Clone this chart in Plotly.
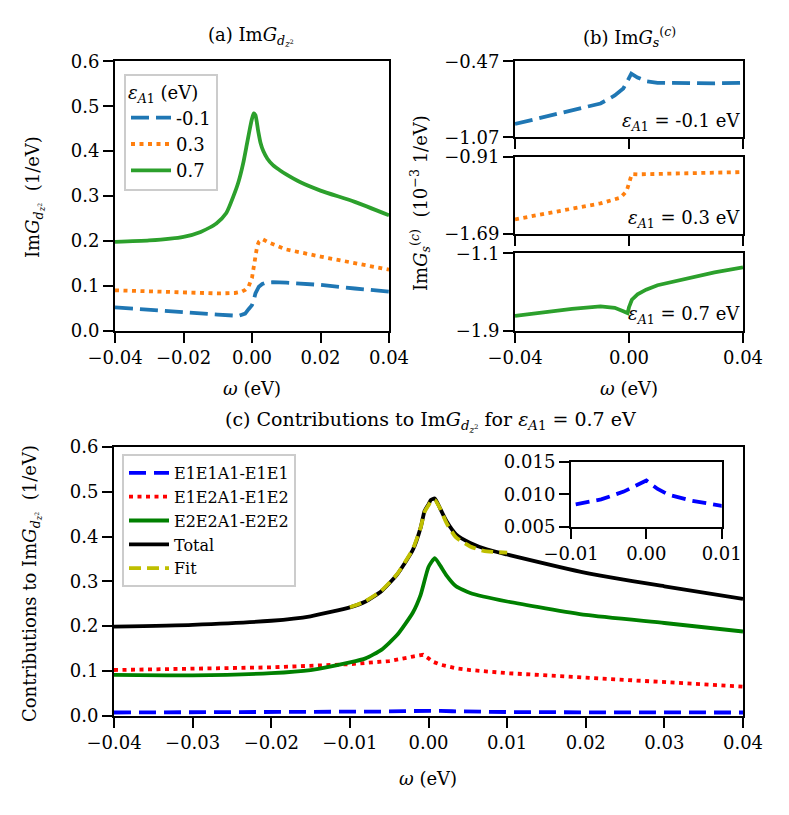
import plotly.graph_objects as go

# ---------------- data ----------------
# Panel (a): ImG_dz2 for three eps_A1 values
a_m01_x = [-0.04, -0.03, -0.02, -0.01, -0.004, -0.002, -0.001, 0.0, 0.0005, 0.001, 0.002, 0.003, 0.004, 0.006, 0.01, 0.02, 0.03, 0.04]
a_m01_y = [0.052, 0.046, 0.040, 0.036, 0.033, 0.038, 0.048, 0.057, 0.068, 0.083, 0.098, 0.104, 0.107, 0.108, 0.107, 0.102, 0.094, 0.087]
a_03_x = [-0.04, -0.03, -0.02, -0.01, -0.005, -0.003, -0.002, -0.001, 0.0, 0.0005, 0.001, 0.0015, 0.002, 0.003, 0.005, 0.01, 0.02, 0.03, 0.04]
a_03_y = [0.090, 0.087, 0.085, 0.083, 0.084, 0.087, 0.091, 0.098, 0.118, 0.145, 0.172, 0.188, 0.198, 0.204, 0.196, 0.181, 0.165, 0.151, 0.136]
a_07_x = [-0.04, -0.03, -0.02, -0.015, -0.0104, -0.0075, -0.0055, -0.004, -0.0026, -0.0015, -0.0007, 0.0, 0.0005, 0.001, 0.0018, 0.0025, 0.0033, 0.0045, 0.0062, 0.008, 0.01, 0.014, 0.02, 0.03, 0.04]
a_07_y = [0.198, 0.201, 0.209, 0.220, 0.239, 0.262, 0.298, 0.330, 0.372, 0.415, 0.447, 0.472, 0.484, 0.480, 0.445, 0.418, 0.400, 0.383, 0.368, 0.358, 0.348, 0.331, 0.312, 0.287, 0.257]
a_labels = ["-0.1", "0.3", "0.7"]

# Panel (b): ImG_s^(c) in 1e-3 1/eV
b_m01_x = [-0.04, -0.03, -0.02, -0.01, -0.005, -0.002, -0.001, 0.0, 0.0008, 0.003, 0.006, 0.01, 0.02, 0.03, 0.04]
b_m01_y = [-0.965, -0.910, -0.855, -0.803, -0.740, -0.685, -0.645, -0.593, -0.567, -0.598, -0.627, -0.640, -0.645, -0.644, -0.640]
b_03_x = [-0.04, -0.03, -0.02, -0.01, -0.003, -0.001, -0.0005, 0.0, 0.0005, 0.001, 0.003, 0.01, 0.02, 0.03, 0.04]
b_03_y = [-1.542, -1.486, -1.431, -1.381, -1.323, -1.263, -1.225, -1.179, -1.120, -1.085, -1.088, -1.085, -1.078, -1.072, -1.065]
b_07_x = [-0.04, -0.03, -0.02, -0.01, -0.005, -0.002, -0.0005, 0.0, 0.001, 0.003, 0.006, 0.01, 0.02, 0.03, 0.04]
b_07_y = [-1.747, -1.708, -1.674, -1.649, -1.663, -1.699, -1.719, -1.657, -1.580, -1.524, -1.476, -1.430, -1.361, -1.298, -1.246]
b_labels = ["-0.1", "0.3", "0.7"]

# Panel (c): contributions for eps_A1 = 0.7 eV
c_e1e1_x = [-0.04, -0.03, -0.02, -0.01, -0.006, -0.003, -0.0015, 0.0, 0.0015, 0.003, 0.006, 0.01, 0.02, 0.03, 0.04]
c_e1e1_y = [0.0072, 0.0074, 0.0077, 0.0083, 0.0092, 0.0104, 0.0112, 0.0121, 0.0108, 0.0099, 0.0090, 0.0082, 0.0076, 0.0073, 0.0071]
c_e1e2_x = [-0.04, -0.03, -0.02, -0.01, -0.005, -0.002, -0.0007, 0.0, 0.0005, 0.0015, 0.0023, 0.0035, 0.0053, 0.01, 0.02, 0.03, 0.04]
c_e1e2_y = [0.102, 0.104, 0.108, 0.115, 0.122, 0.132, 0.136, 0.128, 0.121, 0.114, 0.110, 0.106, 0.102, 0.095, 0.085, 0.076, 0.065]
c_e2e2_x = [-0.04, -0.03, -0.02, -0.015, -0.01, -0.008, -0.006, -0.004, -0.002, -0.001, 0.0, 0.0008, 0.0015, 0.0023, 0.0035, 0.0053, 0.01, 0.02, 0.03, 0.04]
c_e2e2_y = [0.091, 0.090, 0.095, 0.102, 0.119, 0.128, 0.147, 0.180, 0.230, 0.270, 0.332, 0.352, 0.335, 0.313, 0.289, 0.274, 0.255, 0.225, 0.207, 0.188]
c_tot_x = [-0.04, -0.03, -0.02, -0.015, -0.01, -0.008, -0.006, -0.004, -0.002, -0.001, -0.0005, 0.0, 0.0003, 0.0008, 0.0015, 0.0023, 0.0035, 0.0053, 0.0075, 0.01, 0.02, 0.03, 0.04]
c_tot_y = [0.199, 0.203, 0.212, 0.222, 0.242, 0.255, 0.278, 0.315, 0.370, 0.420, 0.457, 0.472, 0.482, 0.485, 0.462, 0.434, 0.405, 0.386, 0.371, 0.360, 0.319, 0.289, 0.261]
c_fit_x = [-0.01, -0.008, -0.006, -0.004, -0.002, -0.001, -0.0005, 0.0, 0.0003, 0.0008, 0.0015, 0.0023, 0.0035, 0.0053, 0.007, 0.01]
c_fit_y = [0.242, 0.256, 0.279, 0.316, 0.372, 0.420, 0.455, 0.470, 0.479, 0.482, 0.462, 0.430, 0.398, 0.378, 0.368, 0.364]
c_labels = ["E1E1A1-E1E1", "E1E2A1-E1E2", "E2E2A1-E2E2", "Total", "Fit"]

# ---------------- layout helpers ----------------
W, H = 789, 815
FONT = "DejaVu Serif"
FS = 18


def px(x):
    return x / W


def py(y):
    return 1 - y / H


TAB_BLUE, TAB_ORANGE, TAB_GREEN = "#1f77b4", "#ff7f0e", "#2ca02c"
LW = 3.8
DASH = "18px,7px"
DOT = "4px,4.5px"

fig = go.Figure()

# panel (a)
fig.add_trace(go.Scatter(x=a_m01_x, y=a_m01_y, mode="lines", name=a_labels[0], legend="legend",
                         line=dict(color=TAB_BLUE, width=LW, dash=DASH), xaxis="x", yaxis="y"))
fig.add_trace(go.Scatter(x=a_03_x, y=a_03_y, mode="lines", name=a_labels[1], legend="legend",
                         line=dict(color=TAB_ORANGE, width=LW, dash=DOT), xaxis="x", yaxis="y"))
fig.add_trace(go.Scatter(x=a_07_x, y=a_07_y, mode="lines", name=a_labels[2], legend="legend",
                         line=dict(color=TAB_GREEN, width=LW, shape="spline", smoothing=0.6), xaxis="x", yaxis="y"))

# panel (b)
fig.add_trace(go.Scatter(x=b_m01_x, y=b_m01_y, mode="lines", showlegend=False,
                         line=dict(color=TAB_BLUE, width=LW, dash=DASH), xaxis="x2", yaxis="y2"))
fig.add_trace(go.Scatter(x=b_03_x, y=b_03_y, mode="lines", showlegend=False,
                         line=dict(color=TAB_ORANGE, width=LW, dash=DOT), xaxis="x3", yaxis="y3"))
fig.add_trace(go.Scatter(x=b_07_x, y=b_07_y, mode="lines", showlegend=False,
                         line=dict(color=TAB_GREEN, width=LW), xaxis="x4", yaxis="y4"))

# panel (c)
fig.add_trace(go.Scatter(x=c_e1e1_x, y=c_e1e1_y, mode="lines", name=c_labels[0], legend="legend2",
                         line=dict(color="#0000ff", width=LW, dash="17px,8px"), xaxis="x5", yaxis="y5"))
fig.add_trace(go.Scatter(x=c_e1e2_x, y=c_e1e2_y, mode="lines", name=c_labels[1], legend="legend2",
                         line=dict(color="#ff0000", width=LW, dash=DOT), xaxis="x5", yaxis="y5"))
fig.add_trace(go.Scatter(x=c_e2e2_x, y=c_e2e2_y, mode="lines", name=c_labels[2], legend="legend2",
                         line=dict(color="#008000", width=LW, shape="spline", smoothing=0.5), xaxis="x5", yaxis="y5"))
fig.add_trace(go.Scatter(x=c_tot_x, y=c_tot_y, mode="lines", name=c_labels[3], legend="legend2",
                         line=dict(color="black", width=LW, shape="spline", smoothing=0.5), xaxis="x5", yaxis="y5"))
fig.add_trace(go.Scatter(x=c_fit_x, y=c_fit_y, mode="lines", name=c_labels[4], legend="legend2",
                         line=dict(color="#bfbf00", width=LW, dash="12px,6px", shape="spline", smoothing=0.5),
                         xaxis="x5", yaxis="y5"))
# inset
fig.add_trace(go.Scatter(x=c_e1e1_x, y=c_e1e1_y, mode="lines", showlegend=False,
                         line=dict(color="#0000ff", width=LW, dash="14px,7px"), xaxis="x6", yaxis="y6"))

ax = dict(showline=True, linecolor="black", linewidth=2, mirror=True, ticks="outside", ticklen=10,
          tickwidth=2, tickcolor="black", showgrid=False, zeroline=False, automargin=False,
          tickfont=dict(family=FONT, size=FS, color="black"))

a_dom_x = [px(115), px(389)]
b_dom_x = [px(515), px(743)]
c_dom_x = [px(114), px(743)]

fig.update_layout(
    width=W, height=H, margin=dict(l=0, r=0, t=0, b=0, pad=0, autoexpand=False), autosize=False,
    paper_bgcolor="white", plot_bgcolor="white",
    font=dict(family=FONT, size=FS, color="black"),
    xaxis=dict(ax, domain=a_dom_x, range=[-0.04, 0.04], tickvals=[-0.04, -0.02, 0, 0.02, 0.04],
               tickformat=".2f", anchor="y"),
    yaxis=dict(ax, domain=[py(330.7), py(61.3)], range=[0, 0.6], dtick=0.1, tickformat=".1f", anchor="x"),
    xaxis2=dict(ax, domain=b_dom_x, range=[-0.04, 0.04], tickvals=[-0.04, 0, 0.04], showticklabels=False,
                anchor="y2"),
    yaxis2=dict(ax, domain=[py(137.3), py(61.3)], range=[-1.07, -0.47], tickvals=[-1.07, -0.47],
                tickformat=".2f", anchor="x2"),
    xaxis3=dict(ax, domain=b_dom_x, range=[-0.04, 0.04], tickvals=[-0.04, 0, 0.04], showticklabels=False,
                anchor="y3"),
    yaxis3=dict(ax, domain=[py(234), py(156.7)], range=[-1.69, -0.91], tickvals=[-1.69, -0.91],
                tickformat=".2f", anchor="x3"),
    xaxis4=dict(ax, domain=b_dom_x, range=[-0.04, 0.04], tickvals=[-0.04, 0, 0.04], tickformat=".2f",
                anchor="y4"),
    yaxis4=dict(ax, domain=[py(330.7), py(253.3)], range=[-1.9, -1.1], tickvals=[-1.9, -1.1],
                tickformat=".1f", anchor="x4"),
    xaxis5=dict(ax, domain=c_dom_x, range=[-0.04, 0.04], dtick=0.01, tickformat=".2f", anchor="y5"),
    yaxis5=dict(ax, domain=[py(715.7), py(447.0)], range=[0, 0.6], dtick=0.1, tickformat=".1f", anchor="x5"),
    xaxis6=dict(ax, domain=[px(571), px(721.7)], range=[-0.01, 0.01], tickvals=[-0.01, 0, 0.01],
                tickformat=".2f", anchor="y6"),
    yaxis6=dict(ax, domain=[py(526.7), py(461.7)], range=[0.005, 0.015], tickvals=[0.005, 0.010, 0.015],
                tickformat=".3f", anchor="x6"),
    legend=dict(x=px(124), y=py(74), xanchor="left", yanchor="top",
                bgcolor="rgba(255,255,255,0.85)", bordercolor="#cccccc", borderwidth=2,
                font=dict(family=FONT, size=FS, color="black"),
                title=dict(text="<i>ε</i><sub><i>A</i>1</sub> (eV)", font=dict(family=FONT, size=FS)),
                tracegroupgap=0, itemwidth=40),
    legend2=dict(x=px(122), y=py(454), xanchor="left", yanchor="top",
                 bgcolor="rgba(255,255,255,0.85)", bordercolor="#cccccc", borderwidth=2,
                 font=dict(family=FONT, size=16, color="black"), tracegroupgap=0, itemwidth=40),
)

GDZ = "Im<i>G</i><sub><i>d</i><sub><i>z</i><sup>2</sup></sub></sub>"
GS = "Im<i>G</i><sub><i>s</i></sub><sup>(<i>c</i>)</sup>"
EPS = "<i>ε</i><sub><i>A</i>1</sub>"


def ann(text, x, y, size=FS, angle=0, xanchor="center"):
    fig.add_annotation(text=text, x=px(x), y=py(y), xref="paper", yref="paper", showarrow=False,
                       xanchor=xanchor, yanchor="middle", textangle=angle,
                       font=dict(family=FONT, size=size, color="black"))


ann("(a) " + GDZ, 251, 37)
ann("(b) " + GS, 629, 37)
ann("(c) Contributions to " + GDZ + " for " + EPS + " = 0.7 eV", 430, 421, size=19)
ann("<i>ω</i> (eV)", 252, 388)
ann("<i>ω</i> (eV)", 629, 388)
ann("<i>ω</i> (eV)", 428, 778)
ann(GDZ + "  (1/eV)", 35, 197, angle=-90)
ann(GS + "  (10<sup>−3</sup> 1/eV)", 420, 203, angle=-90)
ann("Contributions to " + GDZ + "  (1/eV)", 31, 584, angle=-90)
ann(EPS + " = -0.1 eV", 742, 122, xanchor="right")
ann(EPS + " = 0.3 eV", 742, 219, xanchor="right")
ann(EPS + " = 0.7 eV", 742, 315, xanchor="right")

fig.write_html("out.html", config={"displayModeBar": False},
               post_script="document.body.style.margin='0';document.body.style.overflow='hidden';")
